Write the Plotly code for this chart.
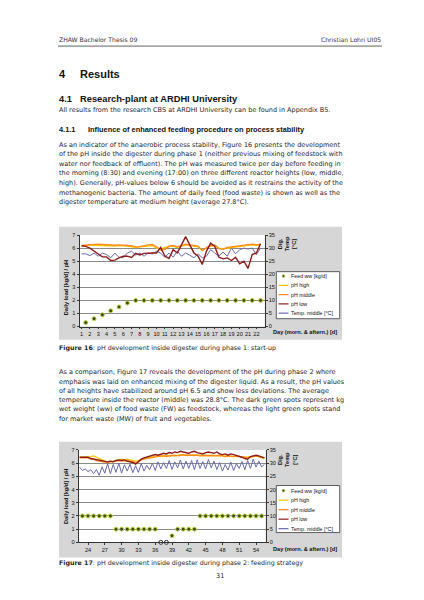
import plotly.graph_objects as go

W, H = 424, 600

# ---------------- Figure 16 (phase 1: start-up) ----------------
days1 = [1 + 0.5 * i for i in range(44)]          # morning & afternoon readings
feed_days1 = [1.5 + i for i in range(22)]
xticks1 = list(range(1, 23))
feed1 = [0.3, 0.6, 0.9, 1.2, 1.5, 1.8, 2, 2, 2, 2, 2,
         2, 2, 2, 2, 2, 2, 2, 2, 2, 2, 2]
ph_high1 = [6.15, 6.2, 6.25, 6.22, 6.2, 6.2, 6.18, 6.2, 6.15, 6.2,
            6.2, 6.15, 6.1, 6.05, 6.1, 6.15, 6.2, 6.2, 6.0, 5.9,
            6.05, 6.1, 6.15, 6.05, 6.15, 6.25, 6.2, 6.15, 6.1, 5.85,
            6.0, 6.15, 6.2, 6.0, 5.95, 6.0, 6.05, 6.1, 6.1, 6.2,
            6.2, 6.25, 6.2, 6.25]
ph_mid1 = [6.2, 6.22, 6.28, 6.3, 6.3, 6.28, 6.25, 6.25, 6.22, 6.25,
           6.25, 6.2, 6.18, 6.1, 6.12, 6.2, 6.25, 6.28, 6.1, 5.85,
           5.9, 6.15, 6.2, 6.1, 6.2, 6.3, 6.25, 6.2, 6.15, 5.8,
           6.05, 6.2, 6.25, 5.95, 5.9, 6.05, 6.1, 6.15, 6.15, 6.25,
           6.25, 6.3, 6.25, 6.3]
ph_low1 = [6.18, 6.13, 6.0, 5.75, 5.55, 5.33, 5.33, 5.05, 5.08, 5.25,
           5.38, 5.38, 5.28, 5.6, 5.48, 5.6, 5.63, 5.63, 5.63, 6.05,
           5.4, 5.2, 5.88, 5.63, 6.25, 6.88, 6.25, 5.63, 5.38, 4.75,
           5.75, 6.38, 6.13, 5.3, 5.18, 5.25, 5.05, 5.3, 4.8, 5.0,
           4.45, 5.5, 5.63, 6.33]
temp1 = [27.8, 27.8, 27.1, 28.1, 26.9, 28.1, 27.5, 26.3, 28.1, 26.5,
         26.3, 28.1, 28.8, 27.3, 28.1, 26.9, 28.1, 27.8, 28.8, 28.1,
         26.5, 28.1, 26.5, 28.8, 26.9, 28.1, 27.3, 26.3, 27.8, 26.3,
         26.9, 29.4, 28.1, 26.9, 28.5, 26.9, 30.0, 27.8, 29.4, 30.0,
         29.7, 30.0, 27.5, 30.0]

# ---------------- Figure 17 (phase 2: feeding strategy) ----------------
days2 = [22.5 + 0.5 * i for i in range(67)]
feed_days2 = list(range(23, 56))
xticks2 = [24, 27, 30, 33, 36, 39, 42, 45, 48, 51, 54]
feed2 = [2, 2, 2, 2, 2, 2,
         1, 1, 1, 1, 1, 1, 1, 1,
         0, 0, 0.5,
         1, 1, 1, 1,
         2, 2, 2, 2, 2, 2, 2, 2, 2, 2, 2, 2]
ph_high2 = [6.45, 6.45, 6.5, 6.45, 6.5, 6.55, 6.45, 6.35, 6.2, 6.15,
            6.1, 6.15, 6.1, 6.2, 6.25, 6.3, 6.25, 6.3, 6.25, 6.2,
            6.15, 6.2, 6.3, 6.35, 6.4, 6.45, 6.5, 6.5, 6.55, 6.5,
            6.55, 6.6, 6.55, 6.6, 6.55, 6.6, 6.65, 6.6, 6.6, 6.65,
            6.6, 6.6, 6.65, 6.6, 6.55, 6.6, 6.6, 6.55, 6.6, 6.55,
            6.55, 6.6, 6.55, 6.5, 6.55, 6.5, 6.5, 6.55, 6.5, 6.45,
            6.45, 6.5, 6.5, 6.55, 6.5, 6.4, 6.35]
ph_mid2 = [6.4, 6.4, 6.35, 6.4, 6.3, 6.3, 6.2, 6.15, 6.1, 6.05,
           6.05, 6.1, 6.15, 6.15, 6.2, 6.15, 6.2, 6.2, 6.15, 6.1,
           6.05, 6.1, 6.25, 6.3, 6.35, 6.4, 6.45, 6.5, 6.5, 6.55,
           6.55, 6.5, 6.55, 6.6, 6.6, 6.55, 6.6, 6.65, 6.6, 6.6,
           6.6, 6.65, 6.6, 6.55, 6.6, 6.6, 6.55, 6.6, 6.55, 6.6,
           6.6, 6.55, 6.5, 6.55, 6.5, 6.5, 6.55, 6.5, 6.45, 6.45,
           6.4, 6.45, 6.5, 6.55, 6.5, 6.45, 6.4]
ph_low2 = [6.45, 6.45, 6.4, 6.45, 6.35, 6.3, 6.25, 6.2, 6.15, 6.1,
           6.1, 6.15, 6.1, 6.2, 6.25, 6.2, 6.25, 6.15, 6.1, 6.05,
           5.92, 6.1, 6.3, 6.4, 6.45, 6.55, 6.6, 6.65, 6.6, 6.7,
           6.75, 6.7, 6.8, 6.75, 6.85, 6.8, 6.9, 6.85, 6.8, 6.75,
           6.85, 6.9, 6.8, 6.75, 6.7, 6.8, 6.85, 6.8, 6.75, 6.85,
           6.7, 6.65, 6.7, 6.6, 6.7, 6.65, 6.6, 6.55, 6.45, 6.35,
           6.3, 6.5, 6.55, 6.6, 6.55, 6.45, 6.4]
temp2 = [28.5, 27.2, 27.8, 26.8, 27.5, 26.0, 27.6, 25.4, 28.6, 26.2,
         29.8, 26.0, 29.5, 26.5, 30.0, 26.2, 29.4, 27.0, 29.6, 26.4,
         29.0, 26.5, 29.8, 27.0, 29.2, 27.5, 30.0, 27.2, 30.5, 27.8,
         30.2, 28.0, 31.0, 27.6, 30.5, 28.2, 31.2, 27.8, 30.8, 28.0,
         31.0, 27.5, 31.3, 28.0, 30.6, 27.8, 31.4, 28.2, 30.8, 27.6,
         30.2, 27.0, 29.5, 27.4, 30.4, 27.2, 29.8, 28.0, 30.6, 27.5,
         31.0, 28.0, 31.5, 28.5, 30.8, 28.6, 29.5]

series_names = ["Feed ww [kg/d]", "pH high", "pH middle", "pH low", "Temp. middle [°C]"]

# ---------------- styles ----------------
C_HIGH = "#f7c600"
C_MID = "#ff8a1c"
C_LOW = "#8e1b1b"
C_TEMP = "#6a6aae"
M_FILL = "#3f4d0c"
M_EDGE = "#bfd64c"
CHART_BG = "#d6d6d6"
GRID = "#8a8a8a"
AXC = "#333333"
BODY = "DejaVu Sans"
ARIAL = "Liberation Sans"
TXT = "#1e1e1e"


def X(x):
    return x / W


def Y(y):
    return 1 - y / H


fig = go.Figure()


def add_chart(xa, ya_t, ya_p, days, temp, hi, mid, low, fdays, feed):
    fig.add_trace(go.Scatter(x=days, y=temp, xaxis=xa, yaxis=ya_t, mode="lines",
                             line=dict(color=C_TEMP, width=1), showlegend=False))
    fig.add_trace(go.Scatter(x=days, y=hi, xaxis=xa, yaxis=ya_p, mode="lines",
                             line=dict(color=C_HIGH, width=1.3), showlegend=False))
    fig.add_trace(go.Scatter(x=days, y=mid, xaxis=xa, yaxis=ya_p, mode="lines",
                             line=dict(color=C_MID, width=1.3), showlegend=False))
    fig.add_trace(go.Scatter(x=days, y=low, xaxis=xa, yaxis=ya_p, mode="lines",
                             line=dict(color=C_LOW, width=1.4), showlegend=False))
    fills = ["white" if v == 0 else M_FILL for v in feed]
    edges = ["#333333" if v == 0 else M_EDGE for v in feed]
    fig.add_trace(go.Scatter(x=fdays, y=feed, xaxis=xa, yaxis=ya_p, mode="markers",
                             cliponaxis=False,
                             marker=dict(symbol="circle", size=4.0, color=fills,
                                         line=dict(color=edges, width=1.0)),
                             showlegend=False))


add_chart("x", "y", "y2", days1, temp1, ph_high1, ph_mid1, ph_low1, feed_days1, feed1)
add_chart("x2", "y3", "y4", days2, temp2, ph_high2, ph_mid2, ph_low2, feed_days2, feed2)

tickfont = dict(family=ARIAL, size=5.6, color="#111")


def xaxis_cfg(dom, anchor, rng, ticks):
    return dict(domain=dom, anchor=anchor, range=rng, tickmode="array", tickvals=ticks,
                tickfont=tickfont, ticks="outside", ticklen=2, tickcolor=AXC, tickwidth=0.7,
                showline=True, linecolor=AXC, linewidth=0.8, showgrid=False, zeroline=False,
                fixedrange=True)


def temp_axis(dom, anchor):
    return dict(domain=dom, anchor=anchor, side="right", range=[0, 35],
                tickmode="array", tickvals=[0, 5, 10, 15, 20, 25, 30, 35],
                tickfont=tickfont, ticks="outside", ticklen=2, tickcolor=AXC, tickwidth=0.7,
                showline=True, linecolor=AXC, linewidth=0.8, showgrid=False, zeroline=False)


def ph_axis(over, anchor):
    return dict(overlaying=over, anchor=anchor, side="left", range=[0, 7],
                tickmode="array", tickvals=[0, 1, 2, 3, 4, 5, 6, 7],
                tickfont=tickfont, ticks="outside", ticklen=2, tickcolor=AXC, tickwidth=0.7,
                showline=True, linecolor=AXC, linewidth=0.8, showgrid=True,
                gridcolor=GRID, gridwidth=0.8, zeroline=False)


fig.update_layout(
    width=W, height=H, autosize=False,
    margin=dict(l=0, r=0, t=0, b=0),
    paper_bgcolor="white", plot_bgcolor="white",
    showlegend=False,
    xaxis=xaxis_cfg([X(71.5), X(256.7)], "y", [0.75, 23.0], xticks1),
    yaxis=temp_axis([Y(318.7), Y(226.3)], "x"),
    yaxis2=ph_axis("y", "x"),
    xaxis2=xaxis_cfg([X(70.7), X(257.7)], "y3", [22.34, 55.73], xticks2),
    yaxis3=temp_axis([Y(536.7), Y(443.4)], "x2"),
    yaxis4=ph_axis("y3", "x2"),
)

shapes = []
annotations = []


def rect(x0, y0, x1, y1, fill, line=None, lw=0):
    shapes.append(dict(type="rect", xref="paper", yref="paper", layer="below",
                       x0=X(x0), x1=X(x1), y0=Y(y1), y1=Y(y0), fillcolor=fill,
                       line=dict(color=line or fill, width=lw)))


def hline(x0, x1, y, color, width, layer="above"):
    shapes.append(dict(type="line", xref="paper", yref="paper", layer=layer,
                       x0=X(x0), x1=X(x1), y0=Y(y), y1=Y(y),
                       line=dict(color=color, width=width)))


def txt(x, y, s, size, family=BODY, anchor="left", color=TXT, angle=0):
    annotations.append(dict(x=X(x), y=Y(y), xref="paper", yref="paper", text=s,
                            showarrow=False, xanchor=anchor, yanchor="middle",
                            borderpad=0, textangle=angle,
                            font=dict(family=family, size=size, color=color)))


# chart areas and plot areas
rect(51, 218, 334, 332, CHART_BG)
rect(71.5, 226.3, 256.7, 318.7, "white")
rect(51, 435, 334, 552, CHART_BG)
rect(70.7, 443.4, 257.7, 536.7, "white")

# header
txt(50, 29, "ZHAW Bachelor Thesis 09", 6.1, color="#333")
txt(374, 29, "Christian Lohri UI05", 6.1, anchor="right", color="#333")
hline(50, 374, 35.5, "#a6a6a6", 1.6)

# headings
txt(50, 64, "<b>4</b>", 11, family=ARIAL, color="#111")
txt(71, 64, "<b>Results</b>", 11, family=ARIAL, color="#111")
txt(50, 89, "<b>4.1</b>", 9.3, family=ARIAL, color="#111")
txt(70.7, 89, "<b>Research-plant at ARDHI University</b>", 9.3, family=ARIAL, color="#111")
txt(50, 100.5, "All results from the research CBS at ARDHI University can be found in Appendix B5.", 6.5)
txt(50, 120, "<b>4.1.1</b>", 7.4, family=ARIAL, color="#111")
txt(79.3, 120, "<b>Influence of enhanced feeding procedure on process stability</b>", 7.4,
    family=ARIAL, color="#111")

para1 = [
    "As an indicator of the anaerobic process stability, Figure 16 presents the development",
    "of the pH inside the digester during phase 1 (neither previous mixing of feedstock with",
    "water nor feedback of effluent). The pH was measured twice per day before feeding in",
    "the morning (8:30) and evening (17:00) on three different reactor heights (low, middle,",
    "high). Generally, pH-values below 6 should be avoided as it restrains the activity of the",
    "methanogenic bacteria. The amount of daily feed (food waste) is shown as well as the",
    "digester temperature at medium height (average 27.8°C).",
]
for i, line in enumerate(para1):
    txt(50, 135 + 9.7 * i, line, 6.5)

para2 = [
    "As a comparison, Figure 17 reveals the development of the pH during phase 2 where",
    "emphasis was laid on enhanced mixing of the digester liquid. As a result, the pH values",
    "of all heights have stabilized around pH 6.5 and show less deviations. The average",
    "temperature inside the reactor (middle) was 28.8°C. The dark green spots represent kg",
    "wet weight (ww) of food waste (FW) as feedstock, whereas the light green spots stand",
    "for market waste (MW) of fruit and vegetables.",
]
for i, line in enumerate(para2):
    txt(50, 365 + 9.35 * i, line, 6.5)

# captions
txt(50, 340.7, "<b>Figure 16</b>: pH development inside digester during phase 1: start-up", 6.3)
txt(50, 557.7, "<b>Figure 17</b>: pH development inside digester during phase 2: feeding strategy", 6.3)
txt(212, 571, "31", 6.5, anchor="center")


# chart titles and legends
def chart_texts(ytop_leg, y_items, y_left_title, y_dig, y_xtitle):
    txt(58, y_left_title, "<b>Daily load [kg/d] / pH</b>", 5.6, family=ARIAL, anchor="center",
        color="#111", angle=-90)
    txt(279.5, y_dig, "<b>Dig.<br>Temp<br>[°C]</b>", 5.6, family=ARIAL, anchor="center",
        color="#111", angle=-90)
    txt(297, y_xtitle, "<b>Day (morn. &amp; aftern.) [d]</b>", 5.6, family=ARIAL,
        anchor="center", color="#111")
    # legend box
    shapes.append(dict(type="rect", xref="paper", yref="paper", layer="above",
                       x0=X(268.3), x1=X(331.7), y0=Y(ytop_leg + 47.5), y1=Y(ytop_leg),
                       fillcolor="white", line=dict(color="#222", width=0.7)))
    colors = [None, C_HIGH, C_MID, C_LOW, C_TEMP]
    for k, (nm, yy) in enumerate(zip(series_names, y_items)):
        if k == 0:
            shapes.append(dict(type="circle", xref="paper", yref="paper", layer="above",
                               x0=X(274.1), x1=X(276.9), y0=Y(yy + 1.4), y1=Y(yy - 1.4),
                               fillcolor=M_FILL, line=dict(color=M_EDGE, width=0.8)))
        else:
            hline(270.5, 280.5, yy, colors[k], 1.2)
        txt(281.5, yy, nm, 5.3, family=ARIAL, color="#111")


chart_texts(263.3, [267.8 + 9.35 * k for k in range(5)], 280, 235, 324.3)
chart_texts(479.3, [484.5 + 9.6 * k for k in range(5)], 491, 453, 543.3)

fig.update_layout(shapes=shapes, annotations=annotations)
fig.write_html("out.html")
